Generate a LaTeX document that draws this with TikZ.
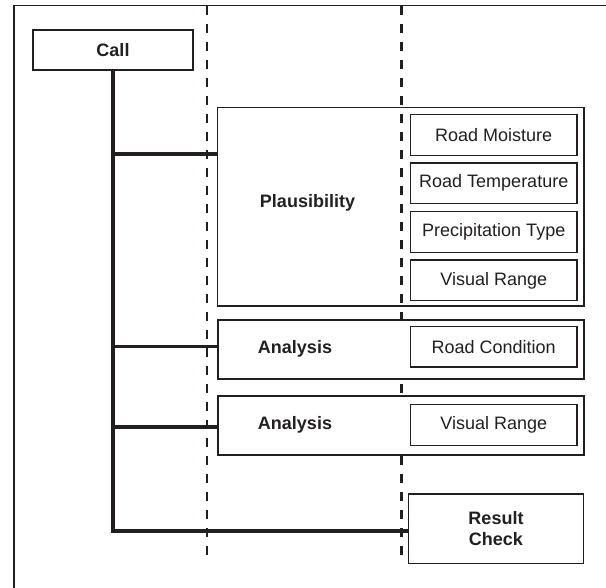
\documentclass[tikz,border=0pt]{standalone}
\usepackage{fontspec}
\setmainfont{Liberation Sans}
\definecolor{ink}{HTML}{231F20}
\begin{document}
\begin{tikzpicture}[x=1pt,y=-1pt,
  every node/.style={inner sep=0pt,outer sep=0pt,text=ink,font=\fontsize{18}{21}\selectfont},
  box/.style={draw=ink,line width=1.4pt,rectangle,fill=white},
  openbox/.style={draw=ink,line width=1.4pt,rectangle},
  subbox/.style={box,minimum width=166.5pt,minimum height=40.5pt},
  lbl/.style={font=\fontsize{18}{21}\selectfont\bfseries},
  trunk/.style={draw=ink,line width=3.6pt},
  sep1/.style={draw=ink,line width=1.2pt,dash pattern=on 9pt off 9pt},
  sep2/.style={draw=ink,line width=2.1pt,dash pattern=on 9pt off 9pt},
  frame/.style={draw=ink,line width=1.3pt}]
\useasboundingbox (0,0) rectangle (606,588);
% frame (cropped)
\coordinate (fa) at (14,5.5);
\coordinate (fb) at (606,5.5);
\coordinate (fc) at (14,588);
\draw[frame] (fb) -- (fa) -- (fc);
% dashed separators
\coordinate (d1t) at (207,6);
\coordinate (d1b) at (207,555);
\coordinate (d2t) at (401.5,6);
\coordinate (d2b) at (401.5,555);
\draw[sep1] (d1t) -- (d1b);
\draw[sep2] (d2t) -- (d2b);
% Call
\node[box,minimum width=160pt,minimum height=40pt,font=\fontsize{18}{21}\selectfont\bfseries] (call) at (113,50) {Call};
% Plausibility group
\node[openbox,minimum width=366.5pt,minimum height=198.7pt] (plaus) at (400.75,206.65) {};
\node[lbl] (plausl) at (307.5,203) {Plausibility};
\node[subbox] (rm) at (493.75,135) {Road Moisture};
\node[subbox] (rt) at (493.75,183.3) {Road Temperature};
\node[subbox] (pt) at (493.75,232) {Precipitation Type};
\node[subbox] (vr) at (493.75,280.4) {Visual Range};
% Analysis 1
\node[box,minimum width=366pt,minimum height=59pt] (ana1) at (401,349.5) {};
\node[lbl] (ana1l) at (295,349) {Analysis};
\node[subbox] (rc) at (493.75,346.85) {Road Condition};
% Analysis 2
\node[box,minimum width=366pt,minimum height=59pt] (ana2) at (401,425.5) {};
\node[lbl] (ana2l) at (295,425) {Analysis};
\node[subbox] (vr2) at (493.75,425) {Visual Range};
% Result check
\node[box,minimum width=175pt,minimum height=69.5pt,align=center,font=\fontsize{18}{21}\selectfont\bfseries] (res) at (496,528.75) {Result\\Check};
% trunk and branches
\coordinate (b1) at (113,154);
\coordinate (b2) at (113,346.7);
\coordinate (b3) at (113,427);
\coordinate (b4) at (113,531);
\draw[trunk] (call.south) -- (b4) -- (b4 -| res.west);
\draw[trunk] (b1) -- (b1 -| plaus.west);
\draw[trunk] (b2) -- (b2 -| ana1.west);
\draw[trunk] (b3) -- (b3 -| ana2.west);
\end{tikzpicture}
\end{document}
